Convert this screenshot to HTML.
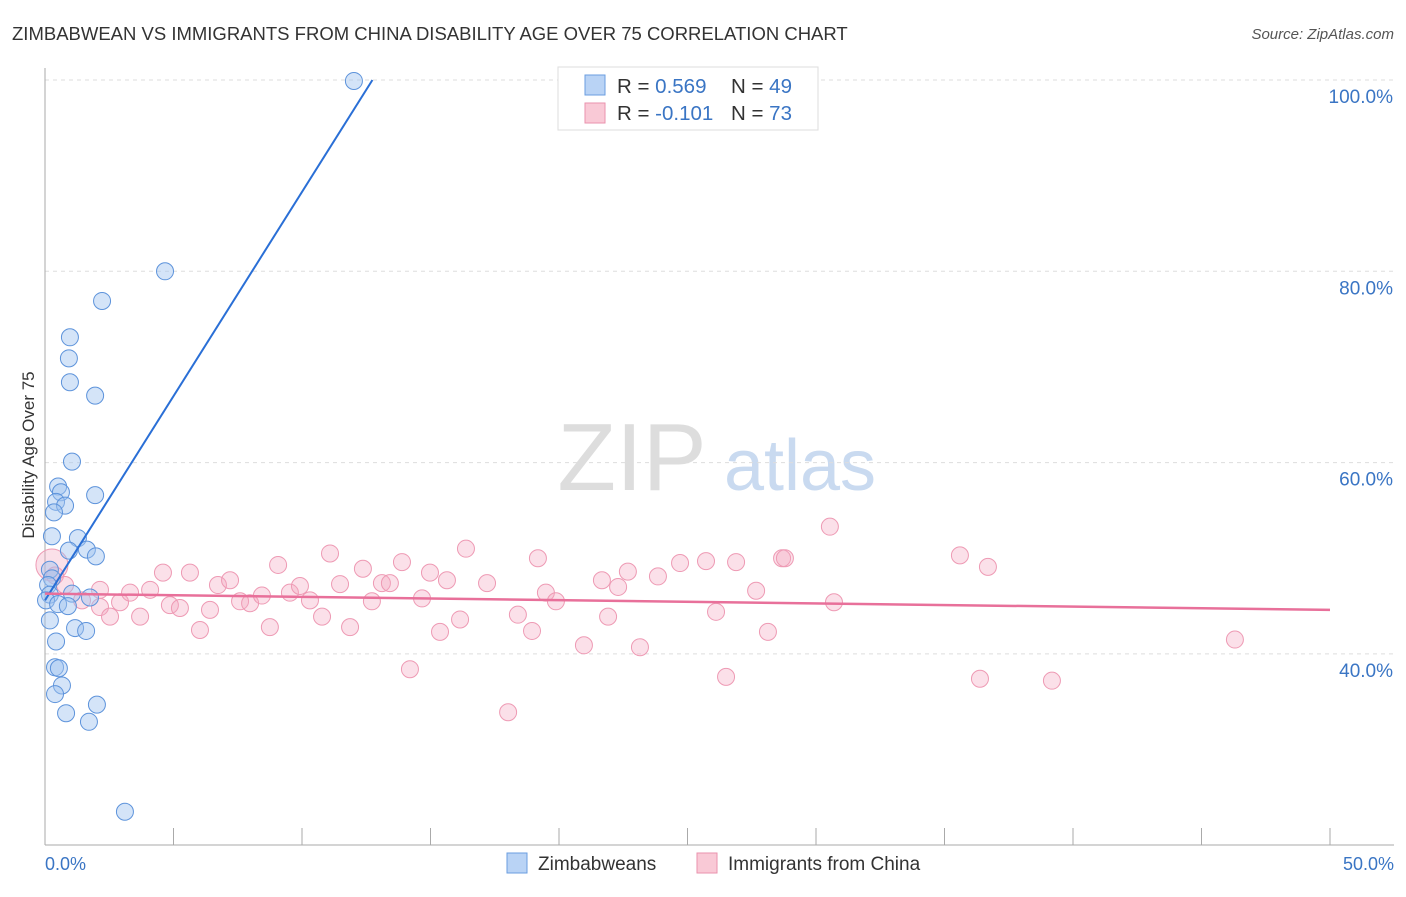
<!DOCTYPE html>
<html><head><meta charset="utf-8"><style>
body{margin:0;background:#fff;font-family:"Liberation Sans",sans-serif;}
svg text{font-family:"Liberation Sans",sans-serif;}
</style></head><body>
<svg id="c" width="1406" height="892">
<text x="12" y="40" font-size="18.5" fill="#333">ZIMBABWEAN VS IMMIGRANTS FROM CHINA DISABILITY AGE OVER 75 CORRELATION CHART</text>
<text x="1394" y="39" font-size="15" fill="#555" font-style="italic" text-anchor="end">Source: ZipAtlas.com</text>
<g><text x="632" y="490" font-size="96" fill="#ddd" font-family="Liberation Serif" text-anchor="middle">ZIP</text><text x="800" y="490" font-size="72" fill="#c9daf0" text-anchor="middle">atlas</text></g>
<g id="grid"></g><g id="axes"></g><g id="pts"></g><g id="lines"></g>
<text transform="translate(34,455) rotate(-90)" font-size="17" fill="#333" text-anchor="middle">Disability Age Over 75</text>
<g>
<rect x="558" y="67" width="260" height="63" fill="#fff" stroke="#ddd"/>
<rect x="585" y="75" width="20" height="20" fill="#b9d3f5" stroke="#6a9ee0"/>
<rect x="585" y="103" width="20" height="20" fill="#f9c9d6" stroke="#ea92ad"/>
<text x="617" y="93" font-size="20.5" fill="#333">R = <tspan fill="#3a75c4">0.569</tspan><tspan x="731">N = </tspan><tspan fill="#3a75c4">49</tspan></text>
<text x="617" y="120" font-size="20.5" fill="#333">R = <tspan fill="#3a75c4">-0.101</tspan><tspan x="731">N = </tspan><tspan fill="#3a75c4">73</tspan></text>
</g>
<g>
<rect x="507" y="853" width="20" height="20" fill="#b9d3f5" stroke="#6a9ee0"/>
<text x="538" y="870" font-size="19" fill="#333">Zimbabweans</text>
<rect x="697" y="853" width="20" height="20" fill="#f9c9d6" stroke="#ea92ad"/>
<text x="728" y="870" font-size="19" fill="#333">Immigrants from China</text>
</g>
</svg>
<script>
const yTicks=[40,60,80,100];
const xTickLabels=["0.0%","50.0%"];
const blueX=[12.02,4.67,2.22,0.97,0.93,0.97,1.95,1.05,0.51,0.62,0.43,1.95,0.78,0.35,0.27,1.28,0.93,1.63,1.98,0.19,0.27,0.12,0.19,1.05,1.75,0.04,0.51,0.89,0.19,1.17,1.6,0.43,0.39,0.54,0.66,0.39,2.02,0.82,1.71,3.11];
const blueY=[99.9,80.0,76.9,73.1,70.9,68.4,67.0,60.1,57.5,56.9,55.9,56.6,55.5,54.8,52.3,52.1,50.8,50.9,50.2,48.8,47.9,47.2,46.2,46.3,45.9,45.6,45.2,45.0,43.5,42.7,42.4,41.3,38.6,38.5,36.7,35.8,34.7,33.8,32.9,23.5];
const pinkX=[0.27,0.39,0.78,2.14,1.44,2.14,2.53,2.92,3.31,3.70,4.09,4.59,4.86,5.25,5.64,6.03,6.42,6.73,7.20,7.59,7.98,8.44,8.75,9.07,9.53,9.92,10.31,10.78,11.09,11.48,11.87,12.37,12.72,13.11,13.42,13.89,14.20,14.67,14.98,15.37,15.64,16.15,16.38,17.20,18.02,18.40,18.95,19.18,19.49,19.88,20.97,21.67,21.91,22.30,22.68,23.15,23.85,24.71,25.72,26.11,26.50,26.89,27.67,28.13,28.68,28.79,30.54,30.70,35.60,36.38,36.69,39.18,46.30];
const pinkY=[49.3,48.2,47.2,46.7,45.6,44.9,43.9,45.4,46.4,43.9,46.7,48.5,45.1,44.8,48.5,42.5,44.6,47.2,47.7,45.5,45.3,46.1,42.8,49.3,46.4,47.1,45.6,43.9,50.5,47.3,42.8,48.9,45.5,47.4,47.4,49.6,38.4,45.8,48.5,42.3,47.7,43.6,51.0,47.4,33.9,44.1,42.4,50.0,46.4,45.5,40.9,47.7,43.9,47.0,48.6,40.7,48.1,49.5,49.7,44.4,37.6,49.6,46.6,42.3,50.0,50.0,53.3,45.4,50.3,37.4,49.1,37.2,41.5];
const blueFit=[45.6,4.27]; // intercept, slope
const pinkFit=[46.3,-0.034];
const NS="http://www.w3.org/2000/svg";
const X=v=>45+v*25.7, Y=v=>80+(100-v)*9.565;
function mk(parent,tag,attrs){const e=document.createElementNS(NS,tag);for(const k in attrs)e.setAttribute(k,attrs[k]);document.getElementById(parent).appendChild(e);return e;}
yTicks.forEach(t=>{
 const l=mk('grid','line',{x1:45,x2:1394,y1:Y(t),y2:Y(t),stroke:'#ddd','stroke-dasharray':'4,4'});
 
 
 const tx=mk('grid','text',{x:1393,y:Y(t)+23,'font-size':19,fill:'#3a75c4','text-anchor':'end'});tx.textContent=t.toFixed(1)+'%';
 
 
});
mk('axes','line',{x1:45,x2:45,y1:68,y2:845,stroke:'#aaa'});
mk('axes','line',{x1:45,x2:1394,y1:845,y2:845,stroke:'#aaa'});
for(let i=1;i<=10;i++){const t=mk('axes','line',{x1:X(i*5),x2:X(i*5),y1:828,y2:845,stroke:'#aaa'});
 
 }
[[0,'start'],[50,'end']].forEach((p,i)=>{const t=mk('axes','text',{x:i?1394:45,y:870,'font-size':18,fill:'#3a75c4','text-anchor':p[1]});t.textContent=xTickLabels[i];
 
 });
pinkX.forEach((x,i)=>{const c=mk('pts','circle',{cx:X(x),cy:Y(pinkY[i]),r:i==0?16:8.5,fill:'rgba(244,166,192,0.35)',stroke:'#ee9ab4','stroke-width':1});
 
 });
blueX.forEach((x,i)=>{const c=mk('pts','circle',{cx:X(x),cy:Y(blueY[i]),r:8.5,fill:'rgba(160,196,240,0.45)',stroke:'#5d93db','stroke-width':1});
 
 });
const bx2=(100-blueFit[0])/blueFit[1];
const bl=mk('lines','line',{x1:X(0),y1:Y(blueFit[0]),x2:X(bx2),y2:Y(100),stroke:'#2a6fd6','stroke-width':2});


const pl=mk('lines','line',{x1:X(0),y1:Y(pinkFit[0]),x2:X(50),y2:Y(pinkFit[0]+50*pinkFit[1]),stroke:'#e8709a','stroke-width':2.5});


</script>
</body></html>
